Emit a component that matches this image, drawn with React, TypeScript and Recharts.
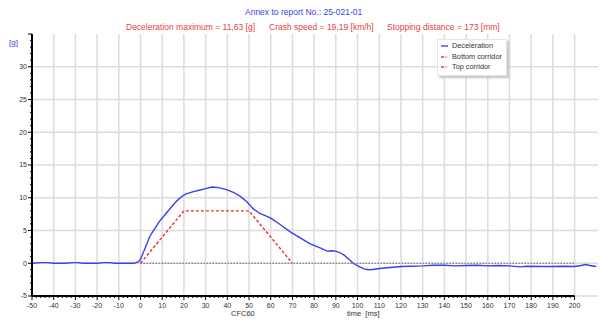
import { LineChart, Line, XAxis, YAxis, CartesianGrid, Legend, ReferenceLine } from 'recharts'

// deceleration trace (time in ms, value in g)
const decelTimes = [
  -50, -46, -43, -40, -35, -31, -29, -26, -20, -17, -14, -12, -6, -3, -1,
  0, 1, 2, 3, 4, 5, 7, 9, 11, 13, 15, 17, 19, 21, 24, 27, 30, 33, 36, 40,
  43, 46, 49, 52, 55, 58, 60, 64, 69, 73, 78, 83, 86, 88, 90, 92, 94, 96, 98,
  101, 103, 105, 107, 110, 115, 120, 125, 130, 135, 140, 145, 150, 155, 160,
  165, 170, 175, 178, 185, 190, 195, 200, 203, 205, 207, 210,
]
const decelValues = [
  0, 0.1, 0.1, 0, 0, 0.1, 0.1, 0, 0, 0.1, 0.1, 0, 0, 0, 0.2,
  0.6, 1.4, 2.2, 3.0, 3.9, 4.5, 5.5, 6.5, 7.3, 8.1, 8.9, 9.6, 10.2, 10.6, 10.9, 11.15, 11.4, 11.63, 11.55, 11.2,
  10.8, 10.2, 9.4, 8.3, 7.6, 7.2, 6.9, 6.0, 4.8, 4.0, 3.0, 2.3, 1.85, 1.9, 1.85, 1.6, 1.2, 0.6, 0,
  -0.55, -0.85, -1.0, -0.95, -0.8, -0.65, -0.5, -0.45, -0.4, -0.3, -0.3, -0.4, -0.35, -0.3, -0.4,
  -0.35, -0.4, -0.55, -0.45, -0.5, -0.5, -0.45, -0.5, -0.35, -0.2, -0.35, -0.5,
]

const topTimes = [0, 20, 50, 70]
const topValues = [0, 8, 8, 0]
const bottomTimes = [0, 200]
const bottomValues = [0, 0]

const xLabels = [-50, -40, -30, -20, -10, 0, 10, 20, 30, 40, 50, 60, 70, 80, 90, 100, 110, 120, 130, 140, 150, 160, 170, 180, 190, 200]
const yLabels = [-5, 0, 5, 10, 15, 20, 25, 30]

const decelData = decelTimes.map((t, i) => ({ t, g: decelValues[i] }))
const topData = topTimes.map((t, i) => ({ t, g: topValues[i] }))
const bottomData = bottomTimes.map((t, i) => ({ t, g: bottomValues[i] }))

// minor ticks: every 2 ms, every 1 g
const xTicks: number[] = []
for (let v = -50; v <= 200; v += 2) xTicks.push(v)
const yTicks: number[] = []
for (let v = -5; v <= 35; v += 1) yTicks.push(v)

const FONT = '"Liberation Sans", Arial, sans-serif'
const BLUE = '#3c3ce8'
const RED = '#e8403c'

// legend order and swatches as in the original software
const legendNames = ['Deceleration', 'Bottom corridor', 'Top corridor']
const legendLook: Record<string, { color: string; dash?: string }> = {
  Deceleration: { color: '#5050f0' },
  'Bottom corridor': { color: RED, dash: '3 1.5 1 1.5' },
  'Top corridor': { color: RED, dash: '3 1.5 1 1.5' },
}

function XTick({ x, y, payload }: any) {
  const v = payload.value
  const major = v % 10 === 0
  return (
    <g>
      <line x1={x} x2={x} y1={y} y2={y + (major ? 4 : 2)} stroke="#000" strokeWidth={1} />
      {major && xLabels.includes(v) && (
        <text x={x} y={y + 9.5} dy="0.35em" textAnchor="middle" fontSize={7} fill="#333" fontFamily={FONT}>
          {v}
        </text>
      )}
    </g>
  )
}

function YTick({ x, y, payload }: any) {
  const v = payload.value
  const major = v % 5 === 0
  return (
    <g>
      <line x1={x - (major ? 4 : 2)} x2={x} y1={y} y2={y} stroke="#000" strokeWidth={1} />
      {major && yLabels.includes(v) && (
        <text x={x - 5} y={y} dy="0.35em" textAnchor="end" fontSize={7} fill="#333" fontFamily={FONT}>
          {v}
        </text>
      )}
    </g>
  )
}

function LegendBox({ payload }: any) {
  const shown = legendNames.filter((n) => (payload || []).some((p: any) => p.value === n))
  return (
    <div
      style={{
        background: '#fff',
        border: '1px solid #e6e6e6',
        boxShadow: '2px 2px 2px #c4c4c4',
        padding: '1px 4px 2px 3px',
        fontSize: 7.3,
        lineHeight: '10.5px',
        color: '#333',
        fontFamily: FONT,
      }}
    >
      {shown.map((name) => {
        const look = legendLook[name]
        return (
          <div key={name} style={{ display: 'flex', alignItems: 'center', whiteSpace: 'nowrap' }}>
            <svg width={7} height={4} style={{ display: 'block' }}>
              <line x1={0} x2={7} y1={2} y2={2} stroke={look.color} strokeWidth={1.5} strokeDasharray={look.dash} />
            </svg>
            <span style={{ marginLeft: 4 }}>{name}</span>
          </div>
        )
      })}
    </div>
  )
}

const textStyle = {
  position: 'absolute' as const,
  fontFamily: FONT,
  whiteSpace: 'nowrap' as const,
  lineHeight: '10px',
}

export default function App() {
  return (
    <div style={{ position: 'absolute', left: 0, top: 0, width: 600, height: 324, background: '#fff' }}>
      <LineChart width={600} height={324} margin={{ top: 34, right: 2, left: 0, bottom: 0 }} style={{ fontFamily: FONT }}>
        <CartesianGrid verticalValues={xLabels} horizontalValues={yLabels} stroke="#dcdcdc" strokeWidth={1.5} />
        <XAxis
          type="number"
          dataKey="t"
          domain={[-50, 210.8]}
          allowDataOverflow
          ticks={xTicks}
          interval={0}
          axisLine={false}
          tickLine={false}
          tickSize={0}
          tickMargin={0}
          height={28}
          tick={<XTick />}
        />
        <YAxis
          type="number"
          domain={[-5, 35]}
          allowDataOverflow
          ticks={yTicks}
          interval={0}
          axisLine={{ stroke: '#000', strokeWidth: 2 }}
          tickLine={false}
          tickSize={0}
          tickMargin={0}
          width={32}
          tick={<YTick />}
        />
        <Legend
          content={<LegendBox />}
          layout="horizontal"
          verticalAlign="middle"
          align="center"
          wrapperStyle={{ left: 437, top: 39, width: 'auto' }}
        />
        <Line
          data={decelData}
          dataKey="g"
          name="Deceleration"
          stroke="#3c3cf2"
          strokeWidth={1.4}
          dot={false}
          isAnimationActive={false}
        />
        <Line
          data={bottomData}
          dataKey="g"
          name="Bottom corridor"
          stroke="#666"
          strokeWidth={1.2}
          strokeDasharray="1.5 1.5"
          dot={false}
          isAnimationActive={false}
        />
        <Line
          data={topData}
          dataKey="g"
          name="Top corridor"
          stroke="#e83030"
          strokeWidth={1.4}
          strokeDasharray="3 2"
          dot={false}
          isAnimationActive={false}
        />
        <ReferenceLine
          segment={[{ x: -50, y: -5 }, { x: 200, y: -5 }]}
          stroke="#000"
          strokeWidth={2}
          ifOverflow="visible"
        />
      </LineChart>

      <div style={{ ...textStyle, left: 245, top: 7, fontSize: 8.5, color: BLUE }}>Annex to report No.: 25-021-01</div>
      <div style={{ ...textStyle, left: 126, top: 22, fontSize: 8.5, color: RED }}>Deceleration maximum = 11,63 [g]</div>
      <div style={{ ...textStyle, left: 269, top: 22, fontSize: 8.5, color: RED }}>Crash speed = 19,19 [km/h]</div>
      <div style={{ ...textStyle, left: 387, top: 22, fontSize: 8.5, color: RED }}>Stopping distance = 173 [mm]</div>
      <div style={{ ...textStyle, left: 9, top: 38, fontSize: 8, color: BLUE }}>[g]</div>
      <div style={{ ...textStyle, left: 231, top: 309, fontSize: 7.5, color: '#333' }}>CFC60</div>
      <div style={{ ...textStyle, left: 347, top: 309, fontSize: 7.5, color: '#333' }}>time&nbsp;&nbsp;[ms]</div>
    </div>
  )
}
